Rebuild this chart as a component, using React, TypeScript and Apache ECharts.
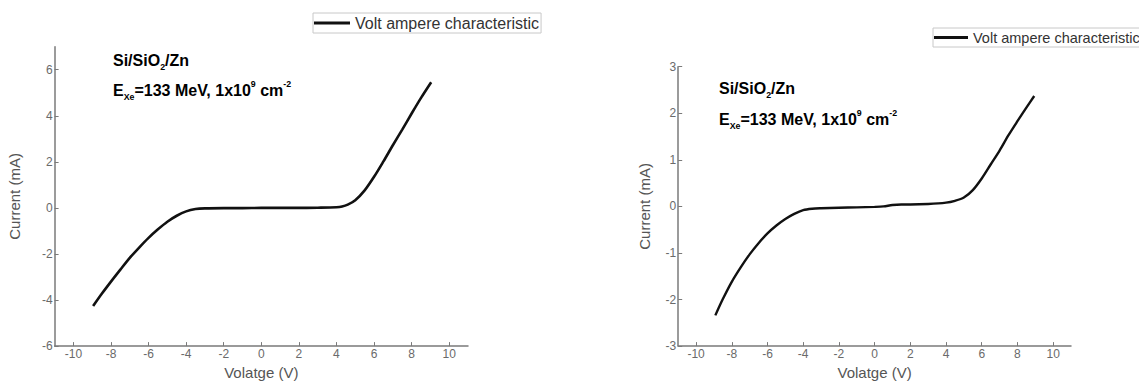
import React, { useEffect, useRef } from "react";
import * as echarts from "echarts";

// ---- data ----
const seriesName = "Volt ampere characteristic";
const xTicks = [-10, -8, -6, -4, -2, 0, 2, 4, 6, 8, 10];
const yTicksLeft = [-6, -4, -2, 0, 2, 4, 6];
const yTicksRight = [-3, -2, -1, 0, 1, 2, 3];

const voltLeft = [-8.95, -8.5, -8, -7.5, -7, -6.5, -6, -5.5, -5, -4.5, -4, -3.5, -3, -2, -1, 0, 1, 2, 3, 4, 4.3, 4.6, 5, 5.5, 6, 6.5, 7, 7.5, 8, 8.5, 9.04];
const currentLeft = [-4.26, -3.74, -3.2, -2.68, -2.17, -1.72, -1.3, -0.93, -0.6, -0.34, -0.15, -0.05, -0.02, -0.01, -0.01, 0, 0, 0, 0.01, 0.03, 0.06, 0.14, 0.33, 0.76, 1.35, 2.02, 2.72, 3.4, 4.1, 4.78, 5.46];

const voltRight = [-8.92, -8.5, -8, -7.5, -7, -6.5, -6, -5.5, -5, -4.5, -4, -3.5, -3, -2, -1, 0, 0.5, 1, 1.5, 2, 3, 4, 4.5, 5, 5.5, 6, 6.5, 7, 7.5, 8, 8.5, 8.94];
const currentRight = [-2.34, -1.99, -1.62, -1.31, -1.03, -0.79, -0.58, -0.41, -0.27, -0.16, -0.08, -0.05, -0.04, -0.03, -0.02, -0.01, 0.0, 0.03, 0.04, 0.04, 0.05, 0.08, 0.12, 0.19, 0.35, 0.6, 0.9, 1.2, 1.53, 1.83, 2.12, 2.37];

const xTitle = "Volatge (V)";
const yTitle = "Current (mA)";

const FONT = "'Liberation Sans', Arial, sans-serif";
const AXIS_COLOR = "#7a7a7a";
const LABEL_COLOR = "#6a6a6a";

function pairs(xs: number[], ys: number[]) {
  return xs.map((x, i) => [x, ys[i]]);
}

function xAxisCfg(gridIndex: number, nameGap: number) {
  return {
    type: "value",
    gridIndex,
    min: -11,
    max: 11,
    name: xTitle,
    nameLocation: "middle",
    nameGap,
    nameTextStyle: { fontFamily: FONT, fontSize: 15, color: "#555" },
    axisLine: { onZero: false, lineStyle: { color: AXIS_COLOR, width: 1.5 } },
    axisTick: { show: true, inside: true, length: 4, customValues: xTicks, lineStyle: { color: AXIS_COLOR } },
    axisLabel: { customValues: xTicks, margin: 2, fontFamily: FONT, fontSize: 12, color: LABEL_COLOR },
    splitLine: { show: false },
  };
}

function yAxisCfg(gridIndex: number, min: number, max: number, ticks: number[], nameGap: number) {
  return {
    type: "value",
    gridIndex,
    min,
    max,
    name: yTitle,
    nameLocation: "middle",
    nameGap,
    nameTextStyle: { fontFamily: FONT, fontSize: 15, color: "#555" },
    axisLine: { show: true, onZero: false, lineStyle: { color: AXIS_COLOR, width: 1.5 } },
    axisTick: { show: true, inside: true, length: 4, customValues: ticks, lineStyle: { color: AXIS_COLOR } },
    axisLabel: { customValues: ticks, margin: 2, fontFamily: FONT, fontSize: 12, color: LABEL_COLOR },
    splitLine: { show: false },
  };
}

function annotation(left: number, top1: number, top2: number, size: number) {
  const rich = {
    n: { fontFamily: FONT, fontSize: size, fontWeight: "bold", color: "#111", lineHeight: size + 6 },
    sub: { fontFamily: FONT, fontSize: size * 0.55, fontWeight: "bold", color: "#111", verticalAlign: "bottom", lineHeight: size + 6 },
    sup: { fontFamily: FONT, fontSize: size * 0.55, fontWeight: "bold", color: "#111", verticalAlign: "top", lineHeight: size + 6 },
  };
  return [
    {
      type: "text",
      left,
      top: top1,
      style: { text: "{n|Si/SiO}{sub|2}{n|/Zn}", rich },
    },
    {
      type: "text",
      left,
      top: top2,
      style: { text: "{n|E}{sub|Xe}{n|=133 MeV, 1x10}{sup|9}{n| cm}{sup|-2}", rich },
    },
  ];
}

export default function App() {
  const ref = useRef<HTMLDivElement>(null);
  useEffect(() => {
    if (!ref.current) return;
    const chart = echarts.init(ref.current, null, { renderer: "svg" });
    chart.setOption({
      animation: false,
      backgroundColor: "#ffffff",
      grid: [
        { left: 54.6, top: 46.7, width: 413.4, height: 302.6 },
        { left: 678.2, top: 66.7, width: 392.8, height: 286.6 },
      ],
      legend: [
        {
          left: 313,
          top: 13,
          data: [seriesName],
          icon: "rect",
          itemWidth: 36,
          itemHeight: 3,
          padding: [2, 2, 2, 1],
          borderColor: "#c8c8c8",
          borderWidth: 1,
          selectedMode: false,
          textStyle: { fontFamily: FONT, fontSize: 16, color: "#333" },
        },
        {
          left: 933,
          top: 28,
          data: [seriesName],
          icon: "rect",
          itemWidth: 34,
          itemHeight: 3,
          padding: [2, 2, 2, 1],
          borderColor: "#c8c8c8",
          borderWidth: 1,
          selectedMode: false,
          textStyle: { fontFamily: FONT, fontSize: 14.5, color: "#333" },
        },
      ],
      xAxis: [xAxisCfg(0, 18), xAxisCfg(1, 18)],
      yAxis: [
        yAxisCfg(0, -6, 7, yTicksLeft, 33),
        yAxisCfg(1, -3, 3, yTicksRight, 26),
      ],
      series: [
        {
          name: seriesName,
          type: "line",
          xAxisIndex: 0,
          yAxisIndex: 0,
          data: pairs(voltLeft, currentLeft),
          showSymbol: false,
          smooth: 0.3,
          lineStyle: { color: "#111", width: 2.6 },
          itemStyle: { color: "#111" },
        },
        {
          name: seriesName,
          type: "line",
          xAxisIndex: 1,
          yAxisIndex: 1,
          data: pairs(voltRight, currentRight),
          showSymbol: false,
          smooth: 0.3,
          lineStyle: { color: "#111", width: 2.4 },
          itemStyle: { color: "#111" },
        },
      ],
      graphic: [...annotation(113, 52, 79, 16), ...annotation(719, 80, 108, 16)],
    });
    return () => chart.dispose();
  }, []);
  return (
    <div
      ref={ref}
      style={{ position: "absolute", left: 0, top: 0, width: 1139, height: 385, background: "#fff" }}
    />
  );
}
